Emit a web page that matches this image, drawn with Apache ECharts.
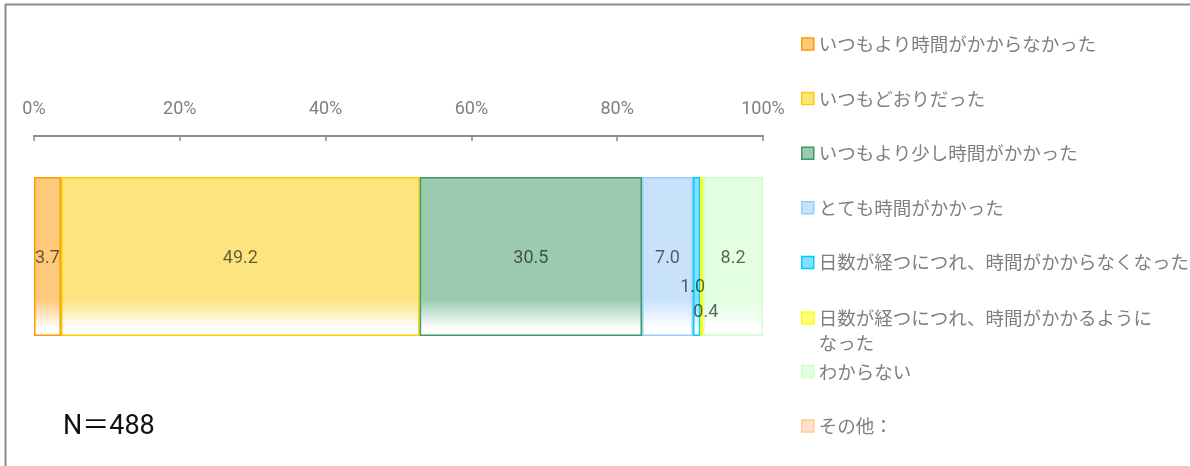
<!DOCTYPE html>
<html>
<head>
<meta charset="utf-8">
<title>所要時間</title>
<script src="https://cdn.jsdelivr.net/npm/echarts@6/dist/echarts.min.js"></script>
<style>
  html, body { margin: 0; padding: 0; background: #fff; }
  #chart { width: 1190px; height: 466px; }
</style>
</head>
<body>
<div id="chart"></div>
<script>
// data
const categories = ['全体'];
const seriesNames = [
  'いつもより時間がかからなかった',
  'いつもどおりだった',
  'いつもより少し時間がかかった',
  'とても時間がかかった',
  '日数が経つにつれ、時間がかからなくなった',
  '日数が経つにつれ、時間がかかるようになった',
  'わからない',
  'その他：'
];
const seriesValues = [3.7, 49.2, 30.5, 7.0, 1.0, 0.4, 8.2, 0];
const tickLabels = ['0%', '20%', '40%', '60%', '80%', '100%'];
const sampleSize = 488;

// styles
const fills = ['#ffc97c', '#fde47f', '#9bcab1', '#c9e2fb', '#80e0ff', '#ffff80', '#e2ffe2', '#ffe0cc'];
const borders = ['#ff9a00', '#ffcc00', '#3d9a62', '#99ccff', '#00ccff', '#ffff00', '#ccffcc', '#ffcc99'];
const labelShift = { 4: [-4, 31], 5: [4, 56] };

const chart = echarts.init(document.getElementById('chart'));

const series = seriesNames.map(function (name, i) {
  return {
    name: name,
    type: 'bar',
    stack: 'total',
    barWidth: 159,
    data: [seriesValues[i]],
    itemStyle: {
      color: {
        type: 'linear', x: 0, y: 0, x2: 0, y2: 1,
        colorStops: [
          { offset: 0, color: fills[i] },
          { offset: 0.77, color: fills[i] },
          { offset: 0.95, color: '#ffffff' },
          { offset: 1, color: '#ffffff' }
        ]
      },
      borderColor: borders[i],
      borderWidth: seriesValues[i] > 0 ? 1.5 : 0
    },
    label: {
      show: seriesValues[i] > 0,
      position: 'inside',
      offset: labelShift[i] || [0, 2],
      color: 'rgba(0,0,0,0.6)',
      fontSize: 18,
      fontFamily: 'Roboto',
      formatter: function (p) { return p.value.toFixed(1); }
    },
    emphasis: { disabled: true }
  };
});

function legendItems(from, to) {
  return seriesNames.slice(from, to).map(function (name, k) {
    const i = from + k;
    return {
      name: name,
      icon: 'rect',
      itemStyle: { color: fills[i], borderColor: borders[i], borderWidth: 1.5 }
    };
  });
}

const legendBase = {
  orient: 'vertical',
  left: 801,
  padding: 0,
  itemWidth: 12,
  itemHeight: 12,
  itemGap: 29.6,
  selectedMode: false,
  textStyle: {
    color: '#7f7f7f',
    fontSize: 18.5,
    lineHeight: 25,
    fontFamily: '"Noto Sans CJK JP"'
  },
  formatter: function (name) {
    // the long item wraps, its first line stays level with the icon
    if (name === seriesNames[5]) {
      return '\n日数が経つにつれ、時間がかかるように\nなった';
    }
    return name;
  }
};

const option = {
  animation: false,
  backgroundColor: '#ffffff',
  grid: { left: 34, width: 729, top: 136, height: 241 },
  xAxis: {
    type: 'value',
    position: 'top',
    min: 0,
    max: 100,
    interval: 20,
    axisLine: { show: true, lineStyle: { color: '#8c8c8c', width: 2 } },
    axisTick: { show: true, inside: true, length: 5, lineStyle: { color: '#8c8c8c', width: 1.5 } },
    splitLine: { show: false },
    axisLabel: {
      margin: 18,
      color: '#7f7f7f',
      fontSize: 18,
      fontFamily: 'Roboto',
      formatter: function (v) { return tickLabels[Math.round(v / 20)]; }
    }
  },
  yAxis: {
    type: 'category',
    data: categories,
    show: false
  },
  legend: [
    Object.assign({}, legendBase, { top: 31.5, data: legendItems(0, 5) }),
    Object.assign({}, legendBase, { top: 280.5, data: legendItems(5, 6) }),
    Object.assign({}, legendBase, { top: 359, data: legendItems(6, 8) })
  ],
  graphic: [
    { type: 'line', shape: { x1: 5.5, y1: 4, x2: 5.5, y2: 466 }, style: { stroke: '#8c8c8c', lineWidth: 2 } },
    { type: 'line', shape: { x1: 5, y1: 4.5, x2: 1190, y2: 4.5 }, style: { stroke: '#8c8c8c', lineWidth: 2 } },
    {
      type: 'text',
      left: 63,
      top: 414,
      style: {
        text: 'N＝' + sampleSize,
        fill: '#111111',
        fontSize: 27,
        fontFamily: 'Roboto, "Noto Sans CJK JP"'
      }
    }
  ],
  series: series
};

chart.setOption(option);
</script>
</body>
</html>
